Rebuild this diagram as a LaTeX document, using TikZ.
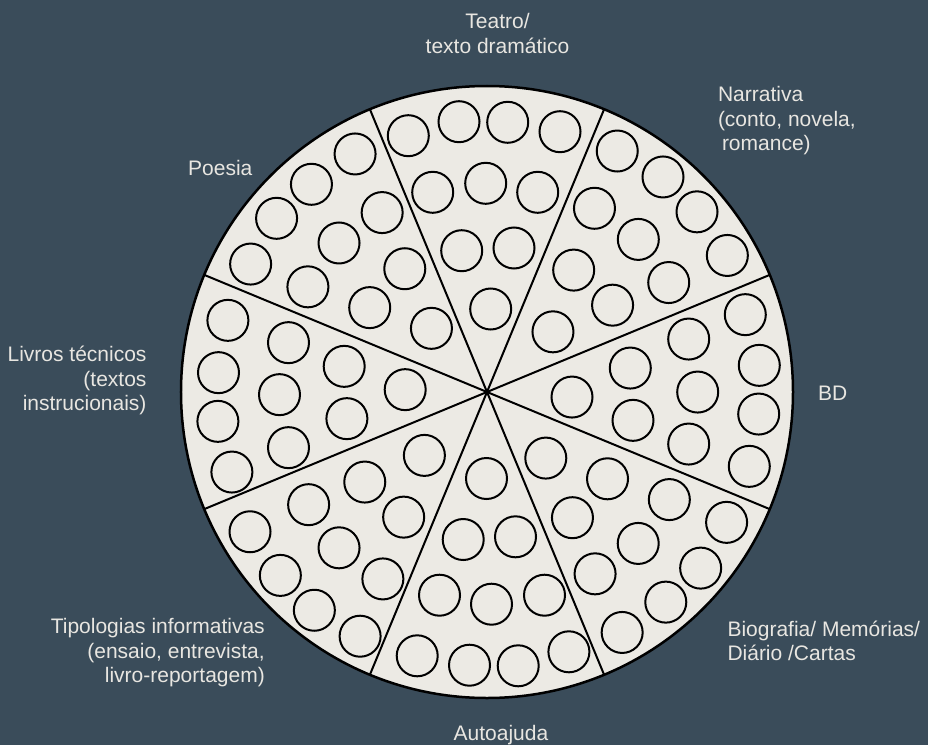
\documentclass[tikz,border=0pt]{standalone}
\usepackage{fontspec}
\setmainfont{Liberation Sans}
\usepackage{xcolor}
\usepackage{tikz}

\definecolor{slate}{RGB}{58,76,90}
\definecolor{paper}{RGB}{236,234,228}
\definecolor{chalk}{RGB}{232,230,225}

\tikzset{
  hole/.style={draw=black, line width=2pt},
  spoke/.style={draw=black, line width=2pt},
  genre/.style={text=chalk, inner sep=0pt, font=\fontsize{21}{24.6}\selectfont},
}

\begin{document}
\begin{tikzpicture}[x=1pt,y=1pt]
%Background
\fill[slate] (-487,-353) rectangle (441,392);
\useasboundingbox (-487,-353) rectangle (441,392);

%Shape: Circle
\coordinate (o) at (0,0);
\fill[paper] (o) circle[radius=306pt];

%Straight Lines
\foreach \a in {22.5,67.5,...,337.5}
  \draw[spoke] (o) -- (\a:306);

%Shape: Circle (ten holes in every slice)
\foreach \a/\cx/\cy in {90/-1.25/203.3, 45/-0.85/209.5, 0/0.1/205.3, -45/0.2/208.6,
                        -90/-4.46/206.8, -135/-5.5/209.4, 180/-2.6/202.1, 135/0.78/204.6}{
  \begin{scope}[rotate=\a-90]
    \foreach \px/\py in {-77.45/53, -26.75/67, 21.95/66.4, 74.25/57,
                         -53.05/-3.6, -0.05/5.4, 51.95/-3.6,
                         -24.05/-62, 28.25/-59.3,
                         4.95/-120.3}
      \draw[hole] (\cx+\px,\cy+\py) circle[radius=20.5pt];
  \end{scope}
}

%Shape: Circle
\draw[line width=2.5pt] (o) circle[radius=306pt];

% Text Node (base = last line)
\node[genre, align=center, anchor=base] (teatro) at (10.5,338.7) {Teatro/\\texto dramático};
% Text Node
\node[genre, align=left, anchor=base west] (narrativa) at (230.8,241.3) {Narrativa\\(conto, novela,\\\hspace*{4pt}romance)};
% Text Node
\node[genre, anchor=base west] (poesia) at (-299,217) {Poesia};
% Text Node
\node[genre, align=right, anchor=base east] (livros) at (-340.3,-18.7) {Livros técnicos\\(textos\\instrucionais)};
% Text Node
\node[genre, anchor=base west] (bd) at (331,-8) {BD};
% Text Node
\node[genre, align=left, anchor=base west] (biografia) at (240.3,-268.7) {Biografia/ Memórias/\\Diário /Cartas};
% Text Node
\node[genre, align=right, anchor=base east] (tipologias) at (-222,-290.7) {Tipologias informativas\\(ensaio, entrevista,\\livro-reportagem)};
% Text Node
\node[genre, anchor=base] (autoajuda) at (14,-348.7) {Autoajuda};

\end{tikzpicture}
\end{document}
